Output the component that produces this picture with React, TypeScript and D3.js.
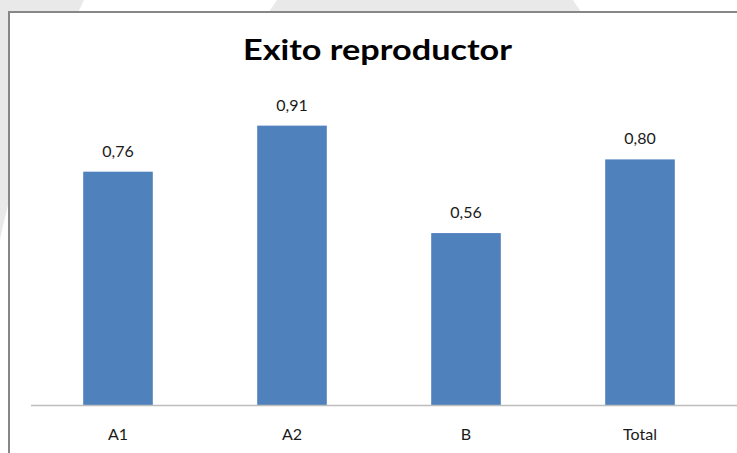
import React from "react";
import * as d3 from "d3";

const categories = ["A1", "A2", "B", "Total"];
const values = [0.76, 0.91, 0.56, 0.8];
const valueLabels = ["0,76", "0,91", "0,56", "0,80"];
const title = "Exito reproductor";

const W = 737;
const H = 453;
const FONT = "Lato, 'Open Sans', 'DejaVu Sans', sans-serif";

export default function App() {
  const x = d3.scaleBand<string>().domain(categories).range([31, 727]).paddingInner(0.6).paddingOuter(0.3);
  const y = d3.scaleLinear().domain([0, 1]).range([405, 98]);
  const bw = x.bandwidth();
  return (
    <div style={{ position: "fixed", left: 0, top: 0, width: W, height: H, overflow: "hidden", background: "#fff" }}>
      <svg width={W} height={H} viewBox={`0 0 ${W} ${H}`} style={{ display: "block" }} xmlns="http://www.w3.org/2000/svg">
        <path d="M0,0 L84,0 C40,90 15,170 0,240 Z" fill="#e9e9e9" />
        <path d="M277,0 L573,0 L581,12 L269,12 Z" fill="#e9e9e9" />
        <rect x={8} y={11} width={W - 8} height={H - 11} fill="#ffffff" />
        <path d={`M9,12 L${W},12`} stroke="#878787" strokeWidth={2} fill="none" />
        <path d={`M9,11 L9,${H}`} stroke="#878787" strokeWidth={2} fill="none" />
        <text x={377.5} y={60} textAnchor="middle" fontFamily={FONT} fontWeight="bold" fontSize={28} fill="#000" textLength={269} lengthAdjust="spacingAndGlyphs">
          {title}
        </text>
        {categories.map((c, i) => (
          <g key={c}>
            <rect x={x(c)} y={y(values[i])} width={bw} height={y(0) - y(values[i])} fill="#4f81bd" />
            <text x={(x(c) as number) + bw / 2} y={y(values[i]) - 15} textAnchor="middle" fontFamily={FONT} fontSize={16} fill="#1a1a1a">
              {valueLabels[i]}
            </text>
            <text x={(x(c) as number) + bw / 2} y={440} textAnchor="middle" fontFamily={FONT} fontSize={16} fill="#1a1a1a">
              {c}
            </text>
          </g>
        ))}
        <path d={`M31,405.5 L${W},405.5`} stroke="#bdbdbd" strokeWidth={1.5} fill="none" />
      </svg>
    </div>
  );
}
